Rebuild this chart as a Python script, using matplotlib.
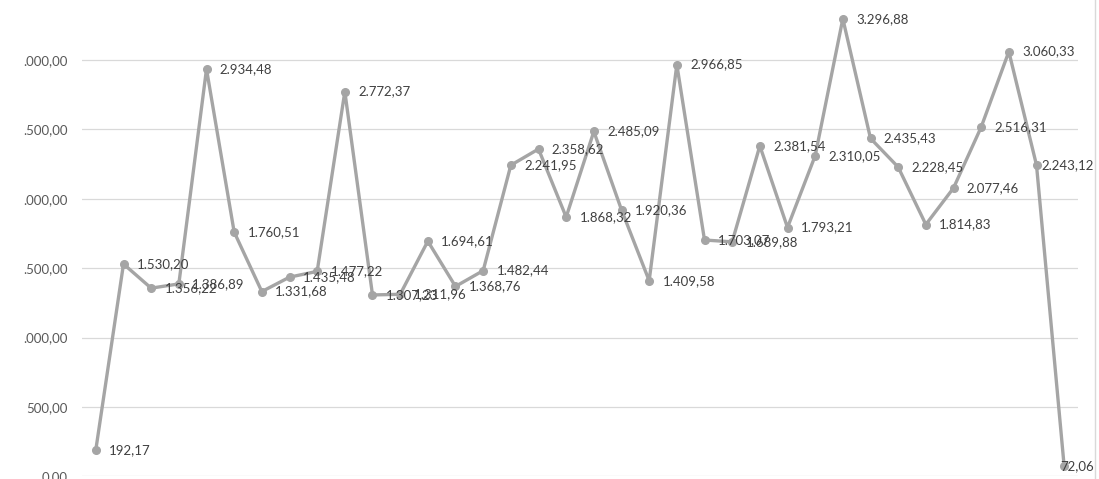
import matplotlib

matplotlib.use("Agg")
import matplotlib.pyplot as plt
from matplotlib.lines import Line2D

# values
VALUES = [
    192.17, 1530.20, 1356.22, 1386.89, 2934.48, 1760.51, 1331.68, 1435.48,
    1477.22, 2772.37, 1307.23, 1311.96, 1694.61, 1368.76, 1482.44, 2241.95,
    2358.62, 1868.32, 2485.09, 1920.36, 1409.58, 2966.85, 1703.07, 1689.88,
    2381.54, 1793.21, 2310.05, 3296.88, 2435.43, 2228.45, 1814.83, 2077.46,
    2516.31, 3060.33, 2243.12, 72.06,
]
Y_TICKS = [0, 500, 1000, 1500, 2000, 2500, 3000]
# the screenshot crops the leading digit of the axis labels
Y_TICK_LABELS = ["0,00", "500,00", ".000,00", ".500,00", ".000,00", ".500,00", ".000,00"]

LINE_COLOR = "#A5A5A5"
GRID_COLOR = "#D9D9D9"
TEXT_COLOR = "#404040"
FONT = ["Lato", "DejaVu Sans"]
DPI = 100
W, H = 1099, 479


def fmt_br(v):
    s = f"{v:,.2f}"
    return s.replace(",", "X").replace(".", ",").replace("X", ".")


def main():
    plt.rcParams["font.family"] = FONT
    fig = plt.figure(figsize=(W / DPI, H / DPI), dpi=DPI)
    # plot area in pixels: x 82..1078, y-zero at 476.4, 0.1388 px per unit
    left, right = 82 / W, 1078 / W
    bottom = (H - 476.4) / H
    ax = fig.add_axes([left, bottom, right - left, 1 - bottom])
    ax.set_ylim(0, 476.4 / 0.1388)
    ax.set_xlim(-0.5, len(VALUES) - 0.5)

    xs = list(range(len(VALUES)))
    ax.plot(xs, VALUES, color=LINE_COLOR, linewidth=2.4, marker="o",
            markersize=5.5, solid_joinstyle="round", zorder=3, clip_on=False)

    ax.set_yticks(Y_TICKS)
    ax.set_yticklabels(Y_TICK_LABELS, fontsize=9.5, color="#595959")
    ax.tick_params(axis="y", length=0, pad=10)
    ax.set_xticks([])
    ax.grid(axis="y", color=GRID_COLOR, linewidth=0.9)
    ax.set_axisbelow(True)
    for sp in ax.spines.values():
        sp.set_visible(False)

    anns = []
    for x, v in zip(xs, VALUES):
        a = ax.annotate(fmt_br(v), (x, v), xytext=(9.5, 0), textcoords="offset points",
                        ha="left", va="center", fontsize=9.5, color=TEXT_COLOR,
                        zorder=4, annotation_clip=False)
        anns.append(a)

    # keep labels inside the chart area, like the spreadsheet does
    fig.canvas.draw()
    limit = 1094
    for a in anns:
        bb = a.get_window_extent()
        if bb.x1 > limit:
            dx = (bb.x1 - limit) * 72 / DPI
            ox, oy = a.xyann
            a.xyann = (ox - dx, oy)

    # chart border on the right
    fig.add_artist(Line2D([1095 / W, 1095 / W], [0, 1], color=GRID_COLOR,
                          linewidth=1, transform=fig.transFigure))

    fig.savefig("out.png", dpi=DPI)
    plt.close(fig)


if __name__ == "__main__":
    main()
